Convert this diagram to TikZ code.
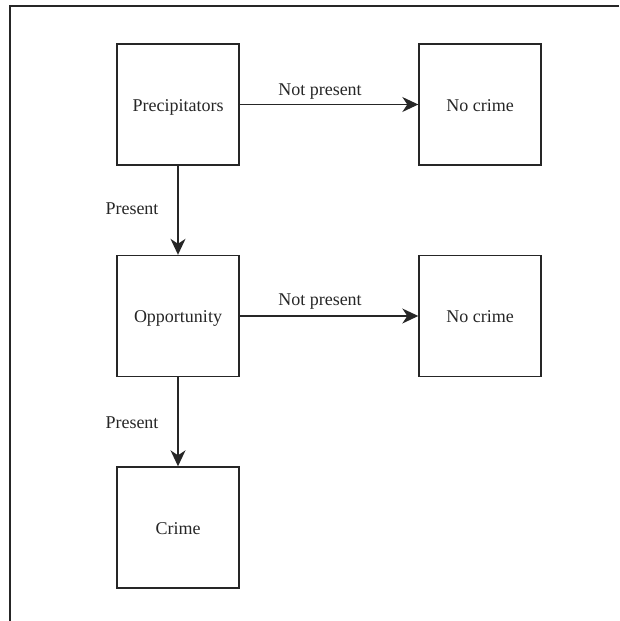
\documentclass[tikz,border=0pt]{standalone}
\usepackage{fontspec}
\setmainfont{Liberation Serif}
\usetikzlibrary{arrows.meta}
\begin{document}
\begin{tikzpicture}[x=1pt, y=-1pt,
  every node/.style={font=\fontsize{18}{21}\selectfont, text=black!85},
  stage/.style={draw=black!85, line width=1.4pt, minimum width=122pt, minimum height=121pt, inner sep=0pt,
                text height=17pt, text depth=4pt},
  flow/.style={draw=black!85, line width=1.4pt, -{Stealth[length=16pt, width=15pt, inset=5pt]}},
  edgelabel/.style={inner sep=0pt}
]
\useasboundingbox (0,0) rectangle (619,621);
% frame lines
\coordinate (frameTL) at (10,6);
\coordinate (frameTR) at (619,6);
\coordinate (frameBL) at (10,621);
\draw[line width=1.4pt, black!85] (frameTR) -- (frameTL) -- (frameBL);

% stages (text sits slightly below the box centre)
\node[stage] (prec) at (178,104.5) {Precipitators};
\node[stage] (none1) at (480,104.5) {No crime};
\node[stage] (opp) at (178,316) {Opportunity};
\node[stage] (none2) at (480,316) {No crime};
\node[stage] (crime) at (178,527.5) {Crime};

% decisions
\draw[flow] (prec) -- node[edgelabel, xshift=-9pt, yshift=13pt] (np1) {Not present} (none1);
\draw[flow] (prec) -- node[edgelabel, xshift=-46pt, yshift=2pt] (p1) {Present} (opp);
\draw[flow] (opp) -- node[edgelabel, xshift=-9pt, yshift=14pt] (np2) {Not present} (none2);
\draw[flow] (opp) -- node[edgelabel, xshift=-46pt, yshift=-1pt] (p2) {Present} (crime);
\end{tikzpicture}
\end{document}
